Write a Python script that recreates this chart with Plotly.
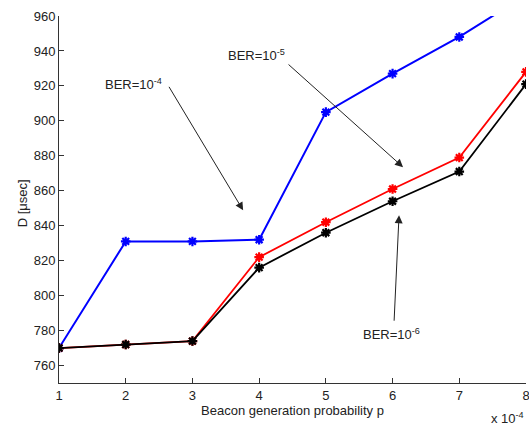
import plotly.graph_objects as go

p = [1, 2, 3, 4, 5, 6, 7, 8]
ber4 = [770, 831, 831, 832, 905, 927, 948, 972]
ber5 = [770, 772, 774, 822, 842, 861, 879, 928]
ber6 = [770, 772, 774, 816, 836, 854, 871, 921]

fig = go.Figure()
for vals, col, w in [(ber4, "#0000ff", 2), (ber5, "#ff0000", 1.8), (ber6, "#000000", 1.8)]:
    fig.add_trace(go.Scatter(
        x=p, y=vals, mode="lines+markers",
        line=dict(color=col, width=w),
        marker=dict(symbol="asterisk-open", size=8, line=dict(color=col, width=2.2)),
        showlegend=False,
    ))

font = dict(family="Liberation Sans, Arial, sans-serif", size=13, color="#222")

# arrows (head at data point, tail offset in pixels)
arrows = [
    (3.76, 848.8, -75, -125),
    (6.157, 873.5, -116, -104),
    (6.097, 846.0, -5, 107),
]
for x, y, ax, ay in arrows:
    fig.add_annotation(x=x, y=y, ax=ax, ay=ay, text="", showarrow=True,
                       arrowhead=2, arrowsize=1.6, arrowwidth=1, arrowcolor="#222")

labels = [
    (2.124, 921, "BER=10<sup>-4</sup>"),
    (3.953, 937.5, "BER=10<sup>-5</sup>"),
    (5.99, 778, "BER=10<sup>-6</sup>"),
]
for x, y, t in labels:
    fig.add_annotation(x=x, y=y, text=t, showarrow=False, font=font,
                       xanchor="center", yanchor="middle")

fig.add_annotation(xref="paper", yref="paper", x=-0.079, y=0.49,
                   text="D [\u03bcsec]", textangle=-90, showarrow=False,
                   font=font, xanchor="center", yanchor="middle")
fig.add_annotation(xref="paper", yref="paper", x=1.0, y=-0.095,
                   text="x 10<sup>-4</sup>", showarrow=False,
                   font=font, xanchor="right", yanchor="middle")

axis_common = dict(showgrid=False, zeroline=False, showline=True, linecolor="#333",
                   linewidth=1, ticks="inside", ticklen=5, tickcolor="#333",
                   tickfont=font, mirror=False, automargin=False)
fig.update_xaxes(range=[1, 8], tickvals=p, ticklabeloverflow="allow", **axis_common,
                 title=dict(text="Beacon generation probability p", font=font, standoff=2))
fig.update_yaxes(range=[750, 960], tickvals=list(range(760, 961, 20)), **axis_common)

fig.update_layout(width=529, height=427, margin=dict(l=59, r=3, t=16, b=44),
                  plot_bgcolor="white", paper_bgcolor="white")
fig.write_html("out.html")
